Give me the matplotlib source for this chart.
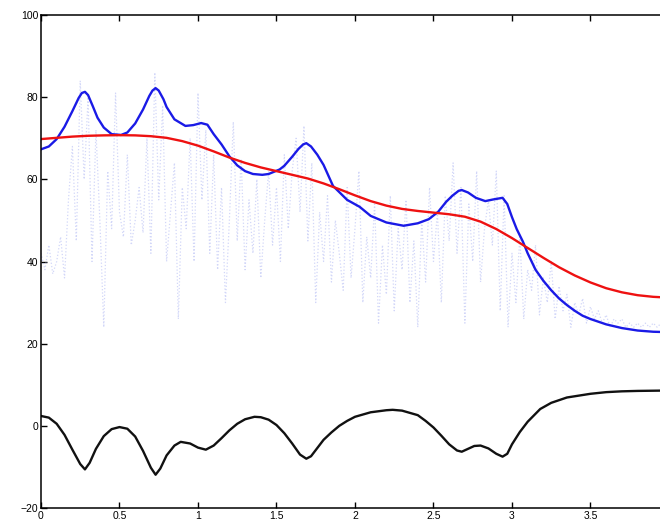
import numpy as np
import matplotlib
matplotlib.use("Agg")
import matplotlib.pyplot as plt

# raw signal, sampled every 0.025
raw_y = [
    42, 38, 44, 37, 40, 46, 36, 55, 68, 45,
    84, 60, 80, 40, 72, 50, 24, 62, 48, 81,
    52, 46, 66, 44, 50, 58, 47, 70, 42, 86,
    55, 78, 40, 52, 64, 26, 58, 48, 70, 40,
    81, 55, 72, 42, 66, 38, 58, 30, 50, 74,
    45, 65, 38, 55, 42, 60, 36, 50, 62, 44,
    58, 40, 66, 48, 62, 70, 52, 73, 45, 64,
    30, 52, 40, 56, 35, 50, 42, 33, 58, 36,
    48, 62, 30, 46, 36, 54, 25, 44, 32, 56,
    28, 48, 38, 55, 30, 45, 24, 50, 35, 58,
    40, 52, 30, 56, 45, 64, 42, 58, 25, 54,
    40, 62, 35, 48, 55, 44, 62, 28, 56, 24,
    42, 30, 46, 26, 38, 33, 44, 27, 36, 30,
    40, 26, 34, 28, 32, 24, 30, 27, 31, 25,
    29, 26, 28, 25, 27, 24, 26, 25, 26, 24,
    25, 24, 25, 24, 25, 24, 25, 24, 25, 24,
]
raw_x = np.arange(len(raw_y)) * 0.025

# local fit
fit_x = [0.00, 0.05, 0.10, 0.15, 0.20, 0.24, 0.26, 0.28, 0.30, 0.33, 0.36, 0.40,
         0.45, 0.51, 0.55, 0.60, 0.65, 0.69, 0.71, 0.73, 0.75, 0.78, 0.80, 0.85,
         0.92, 0.97, 1.02, 1.06, 1.10, 1.15, 1.20, 1.25, 1.30, 1.35,
         1.41, 1.45, 1.52, 1.55, 1.60, 1.64, 1.67, 1.69, 1.72, 1.76, 1.80,
         1.86, 1.95, 2.03, 2.10, 2.20, 2.31, 2.40, 2.47, 2.53, 2.58,
         2.62, 2.66, 2.68, 2.72, 2.77, 2.83, 2.88, 2.94, 2.97, 3.00,
         3.03, 3.07, 3.10, 3.15, 3.20, 3.25, 3.30, 3.35, 3.40, 3.45,
         3.50, 3.60, 3.70, 3.80, 3.90, 4.00]
fit_y = [67.3, 68.0, 69.8, 72.8, 76.6, 79.8, 81.0, 81.3, 80.5, 77.8, 75.0, 72.6,
         71.0, 70.8, 71.4, 73.6, 77.0, 80.3, 81.6, 82.2, 81.6, 79.5, 77.6, 74.6,
         73.0, 73.2, 73.7, 73.3, 71.0, 68.5, 65.6, 63.4, 62.0, 61.3,
         61.1, 61.3, 62.4, 63.3, 65.5, 67.4, 68.5, 68.8, 68.0, 66.0, 63.5,
         58.4, 55.0, 53.3, 51.1, 49.5, 48.7, 49.3, 50.3, 52.1, 54.5,
         56.0, 57.2, 57.4, 56.8, 55.5, 54.7, 55.1, 55.5, 54.0, 50.8,
         47.9, 44.8, 42.0, 38.0, 35.3, 33.0, 31.0, 29.4, 28.0, 26.8,
         26.0, 24.7, 23.8, 23.2, 22.9, 22.8]

# slow trend
trend_x = [0.0, 0.1, 0.2, 0.3, 0.4, 0.5, 0.6, 0.7, 0.8, 0.9, 1.0, 1.1, 1.2, 1.3,
           1.4, 1.5, 1.6, 1.7, 1.8, 1.9, 2.0, 2.1, 2.2, 2.3,
           2.4, 2.5, 2.6, 2.7, 2.8, 2.9, 3.0, 3.1, 3.2, 3.3,
           3.4, 3.5, 3.6, 3.7, 3.8, 3.9, 4.0]
trend_y = [69.8, 70.1, 70.4, 70.6, 70.7, 70.75, 70.7, 70.5, 70.1, 69.3, 68.2, 66.8, 65.3, 64.0,
           62.9, 62.0, 61.1, 60.2, 59.0, 57.6, 56.1, 54.7, 53.6, 52.8,
           52.3, 51.9, 51.5, 50.9, 49.7, 47.9, 45.7, 43.3, 40.9, 38.6,
           36.6, 34.9, 33.5, 32.5, 31.8, 31.4, 31.2]

# trend minus fit
resid_x = [0.00, 0.05, 0.10, 0.15, 0.20, 0.25, 0.28, 0.31, 0.35, 0.40,
           0.45, 0.50, 0.55, 0.60, 0.65, 0.70, 0.73, 0.76, 0.80, 0.85,
           0.89, 0.95, 1.00, 1.05, 1.10, 1.15, 1.20, 1.25, 1.30, 1.36,
           1.40, 1.45, 1.50, 1.55, 1.60, 1.65, 1.69, 1.72, 1.76, 1.80,
           1.85, 1.90, 1.95, 2.00, 2.10, 2.20, 2.24, 2.30, 2.40, 2.45,
           2.50, 2.55, 2.60, 2.65, 2.68, 2.72, 2.76, 2.80, 2.85, 2.90,
           2.94, 2.97, 3.00, 3.05, 3.10, 3.18, 3.25, 3.35, 3.50, 3.60,
           3.70, 3.80, 4.00]
resid_y = [2.4, 2.0, 0.5, -2.2, -5.8, -9.3, -10.6, -9.0, -5.6, -2.5,
           -0.8, -0.3, -0.7, -2.6, -6.1, -10.2, -11.9, -10.4, -7.2, -4.8,
           -3.9, -4.3, -5.3, -5.8, -4.8, -3.0, -1.1, 0.5, 1.6, 2.2,
           2.1, 1.5, 0.2, -1.8, -4.3, -7.0, -8.0, -7.4, -5.4, -3.4,
           -1.6, 0.0, 1.2, 2.2, 3.3, 3.8, 3.9, 3.7, 2.6, 1.2,
           -0.4, -2.4, -4.5, -6.0, -6.3, -5.6, -4.9, -4.8, -5.5, -6.8,
           -7.5, -6.8, -4.5, -1.5, 1.0, 4.1, 5.6, 6.9, 7.8, 8.2,
           8.4, 8.5, 8.6]

plt.rcParams["font.family"] = ["Liberation Sans", "DejaVu Sans"]

fig = plt.figure(figsize=(6.6, 5.3), dpi=100)
ax = fig.add_axes([0.0621, 0.0415, 0.9515, 0.9302])

ax.plot(raw_x, raw_y, ":", color="#b4bcf4", lw=0.9, alpha=0.6)
ax.plot(fit_x, fit_y, color="#1a1ae6", lw=1.7, solid_joinstyle="round")
ax.plot(trend_x, trend_y, color="#ee1111", lw=1.7, solid_joinstyle="round")
ax.plot(resid_x, resid_y, color="#111111", lw=1.7, solid_joinstyle="round")

ax.set_xlim(0, 4)
ax.set_ylim(-20, 100)
ax.set_xticks([0, 0.5, 1, 1.5, 2, 2.5, 3, 3.5])
ax.set_xticklabels(["0", "0.5", "1", "1.5", "2", "2.5", "3", "3.5"])
ax.set_yticks([-20, 0, 20, 40, 60, 80, 100])
ax.tick_params(direction="in", top=True, right=True, length=4, width=1,
               labelsize=7.5, pad=2)
for s in ax.spines.values():
    s.set_linewidth(1.1)

fig.savefig("out.png", dpi=100)
